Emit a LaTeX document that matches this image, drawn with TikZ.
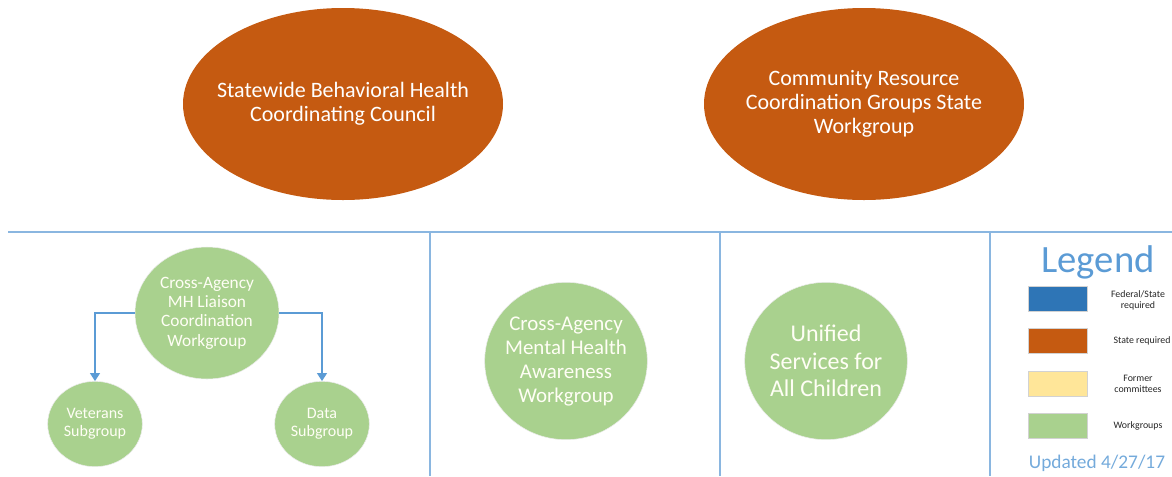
\documentclass[tikz,border=0pt]{standalone}
\usepackage{fontspec}
\setmainfont{Carlito}
\usetikzlibrary{shapes.geometric,arrows.meta}
\definecolor{stateorange}{HTML}{C55A11}
\definecolor{workgreen}{HTML}{A9D18E}
\definecolor{fedblue}{HTML}{2E75B6}
\definecolor{formeryellow}{HTML}{FFE699}
\definecolor{linkblue}{HTML}{5B9BD5}
\definecolor{splitblue}{HTML}{8AB6E0}
\tikzset{
  council/.style={ellipse, fill=stateorange, text=white, align=center, inner xsep=-30pt, inner ysep=0pt,
    minimum width=240pt, minimum height=144pt, font=\fontsize{16.5}{18}\selectfont},
  workgroup/.style={ellipse, fill=workgreen, draw=white!85!gray, line width=0.4pt, text=white!96!yellow,
    align=center, inner xsep=-12pt, inner ysep=0pt},
  keybox/.style={rectangle, draw=gray!35, line width=0.8pt, minimum width=44pt, minimum height=19pt, inner sep=0pt},
  keytext/.style={align=center, text=black!85, font=\fontsize{7.4}{8.2}\selectfont},
  linkarrow/.style={draw=linkblue, line width=0.9pt, -{Triangle[width=7.5pt,length=6pt]}},
  splitline/.style={draw=splitblue, line width=0.9pt}
}
\begin{document}
\begin{tikzpicture}[x=0.75pt,y=0.75pt,yscale=-1,xscale=1]
\useasboundingbox (0,0) rectangle (1172,476);

% State required councils
\node[council] (bhcc) at (343,104) {Statewide Behavioral Health\\Coordinating Council};
\node[council] (crcg) at (864,104) {Community Resource\\Coordination Groups State\\Workgroup};

% Panel dividers
\draw[splitline] (8,232) -- (1172,232);
\draw[splitline] (430,232) -- (430,476);
\draw[splitline] (720,232) -- (720,476);
\draw[splitline] (990,232) -- (990,476);

% Workgroups
\node[workgroup, minimum width=108pt, minimum height=99pt, font=\fontsize{13}{14.5}\selectfont] (liaison) at (207,313) {Cross-Agency\\MH Liaison\\Coordination\\Workgroup};
\node[workgroup, minimum width=71pt, minimum height=64pt, font=\fontsize{12}{13.5}\selectfont] (veterans) at (95,424) {Veterans\\Subgroup};
\node[workgroup, minimum width=71pt, minimum height=64pt, font=\fontsize{12}{13.5}\selectfont] (data) at (322,424) {Data\\Subgroup};
\node[workgroup, minimum width=122pt, minimum height=118pt, font=\fontsize{15.7}{18}\selectfont] (awareness) at (566,361) {Cross-Agency\\Mental Health\\Awareness\\Workgroup};
\node[workgroup, minimum width=122pt, minimum height=118pt, font=\fontsize{18}{20.6}\selectfont] (unified) at (826,361) {Unified\\Services for\\All Children};

% Subgroup links
\draw[linkarrow] (liaison.west) -| (veterans.north);
\draw[linkarrow] (liaison.east) -| (data.north);

% Legend
\node[text=linkblue, font=\fontsize{29}{32}\selectfont] (legend) at (1098,262) {Legend};
\node[keybox, fill=fedblue] (keyfed) at (1058,299) {};
\node[keybox, fill=stateorange] (keystate) at (1058,341) {};
\node[keybox, fill=formeryellow] (keyformer) at (1058,384) {};
\node[keybox, fill=workgreen] (keywork) at (1058,426) {};
\node[keytext] (txtfed) at (1138,300) {Federal/State\\required};
\node[keytext] (txtstate) at (1142,341) {State required};
\node[keytext] (txtformer) at (1138,384) {Former\\committees};
\node[keytext] (txtwork) at (1138,426) {Workgroups};
\node[text=linkblue!85, font=\fontsize{14.5}{16}\selectfont] (updated) at (1097,463) {Updated 4/27/17};

\end{tikzpicture}
\end{document}
